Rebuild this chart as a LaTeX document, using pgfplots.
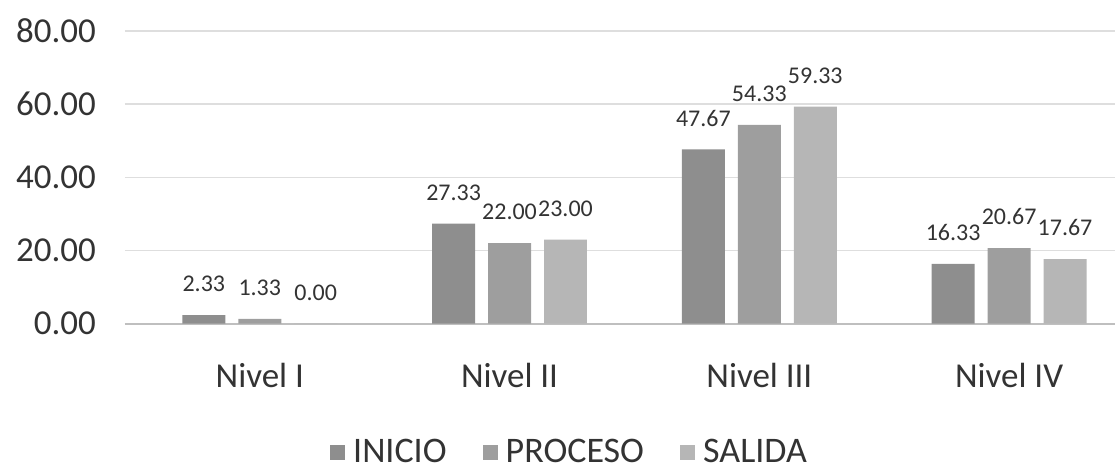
\documentclass[border=0pt]{standalone}
\usepackage{pgfplots}
\pgfplotsset{compat=1.18}
\usepackage{fontspec}
\setmainfont{Carlito}
\definecolor{inicio}{HTML}{8E8E8E}
\definecolor{proceso}{HTML}{9E9E9E}
\definecolor{salida}{HTML}{B6B6B6}
\definecolor{txt}{HTML}{333333}
\begin{document}
\begin{tikzpicture}
\path (-62.5pt,-73pt) rectangle (495.5pt,162pt);
\begin{axis}[
  at={(0,0)}, anchor=south west,
  scale only axis,
  width=495.5pt, height=146.5pt,
  ybar=6.5pt, bar width=21.5pt,
  xmin=-0.54, xmax=3.424,
  ymin=0, ymax=80,
  ytick={0,20,...,80},
  xtick=data,
  xticklabels={Nivel I, Nivel II, Nivel III, Nivel IV},
  axis line style={draw=none},
  major tick length=0pt,
  ymajorgrids=true,
  grid style={draw=black!13, line width=0.8pt},
  extra y ticks={0},
  extra y tick labels={},
  extra y tick style={grid style={draw=black!25, line width=1pt}},
  /pgf/number format/assume math mode=true,
  /pgf/number format/fixed,
  /pgf/number format/fixed zerofill,
  /pgf/number format/precision=2,
  ticklabel style={font=\fontsize{17.5}{19}\selectfont, text=txt},
  yticklabel style={xshift=-11pt},
  xticklabel style={yshift=-16pt},
  nodes near coords,
  nodes near coords style={font=\fontsize{12}{14}\selectfont, text=txt, yshift=8pt},
  legend style={at={(0.45,-0.44)}, anchor=center, draw=none,
    font=\fontsize{18}{20}\selectfont, text=txt,
    /tikz/every odd column/.append style={column sep=2pt},
    /tikz/every even column/.append style={column sep=16pt}},
  legend columns=-1,
  legend image code/.code={\fill[#1] (0pt,-3.8pt) rectangle (7.6pt,3.8pt);},
  clip=false,
]
\addplot[fill=inicio, draw=none] coordinates {(0,2.33) (1,27.33) (2,47.67) (3,16.33)};
\addplot[fill=proceso, draw=none] coordinates {(0,1.33) (1,22.00) (2,54.33) (3,20.67)};
\addplot[fill=salida, draw=none] coordinates {(0,0.00) (1,23.00) (2,59.33) (3,17.67)};
\legend{INICIO, PROCESO, SALIDA}
\end{axis}
\end{tikzpicture}
\end{document}
